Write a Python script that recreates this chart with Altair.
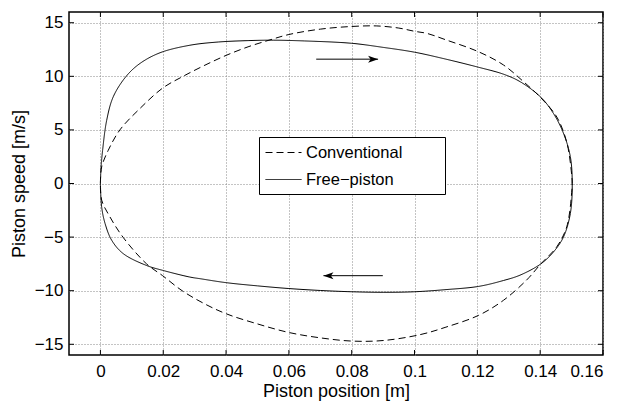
import altair as alt
import pandas as pd

FONT = "Liberation Sans"

series_names = ["Conventional", "Free\u2212piston"]

# Conventional engine loop (top branch left->right, then bottom branch right->left)
conv_x = [0.0, 0.0004, 0.0025, 0.0062, 0.0126, 0.0198, 0.026, 0.033, 0.04,
          0.047, 0.054, 0.06, 0.07, 0.08, 0.088, 0.095, 0.1, 0.104, 0.11,
          0.1203, 0.1283, 0.1347, 0.1402, 0.1453, 0.1485, 0.1501, 0.1502,
          0.1501, 0.1485, 0.1453, 0.1402, 0.1357, 0.1283, 0.1204, 0.11, 0.1018,
          0.09, 0.08, 0.07, 0.06, 0.05, 0.04, 0.033, 0.026, 0.0198, 0.0147,
          0.0073, 0.003, 0.0004, 0.0]
conv_y = [0.0, 1.55, 3.1, 5.0, 7.0, 8.9, 9.95, 11.0, 11.95,
          12.75, 13.4, 13.9, 14.4, 14.65, 14.7, 14.5, 14.2, 14.0, 13.4,
          12.3, 11.06, 9.5, 8.0, 6.2, 3.8, 0.6, 0.0,
          -0.6, -4.0, -5.9, -7.5, -9.0, -10.9, -12.3, -13.4, -14.1,
          -14.65, -14.7, -14.4, -13.9, -13.1, -12.15, -11.2, -10.0, -8.6, -7.5,
          -5.05, -3.1, -1.55, 0.0]

# Free-piston engine loop
free_x = [0.0, 0.0002, 0.0007, 0.002, 0.0041, 0.0082, 0.0126, 0.019, 0.0285, 0.0375,
          0.047, 0.055, 0.065, 0.08, 0.09, 0.1, 0.11, 0.1203, 0.1283, 0.1336,
          0.1402, 0.1442, 0.1474, 0.1496, 0.1502,
          0.1496, 0.1474, 0.1442, 0.1402, 0.1336, 0.1283, 0.1204, 0.11, 0.1,
          0.09, 0.08, 0.07, 0.06, 0.05, 0.04, 0.0317, 0.0285, 0.0198, 0.0147,
          0.0073, 0.0036, 0.0015, 0.0004, 0.0]
free_y = [0.0, 1.5, 3.1, 5.9, 8.1, 10.0, 11.2, 12.2, 12.9, 13.2,
          13.33, 13.37, 13.3, 13.08, 12.7, 12.25, 11.6, 10.85, 10.2, 9.5,
          8.05, 6.55, 4.7, 2.5, 0.0,
          -2.8, -5.0, -6.4, -7.5, -8.55, -9.05, -9.6, -9.9, -10.1,
          -10.15, -10.1, -9.98, -9.8, -9.55, -9.25, -8.88, -8.73, -8.1, -7.65,
          -6.55, -5.3, -3.75, -2.2, 0.0]

x_ticks = [0, 0.02, 0.04, 0.06, 0.08, 0.1, 0.12, 0.14, 0.16]
y_ticks = [-15, -10, -5, 0, 5, 10, 15]

# Direction arrows
arrow_x_start = [0.0687, 0.0899]
arrow_x_end = [0.0884, 0.0710]
arrow_y = [11.6, -8.6]

W, H = 534, 343

rows = []
for i, (a, b) in enumerate(zip(conv_x, conv_y)):
    rows.append({"series": series_names[0], "idx": i, "x": a, "y": b})
for i, (a, b) in enumerate(zip(free_x, free_y)):
    rows.append({"series": series_names[1], "idx": i, "x": a, "y": b})
df = pd.DataFrame(rows)

xscale = alt.Scale(domain=[-0.01, 0.16], nice=False, zero=False)
yscale = alt.Scale(domain=[-16, 16], nice=False, zero=False)

PAD = "\u2800" * 3

lines = alt.Chart(df).mark_line(color="black", strokeWidth=1, interpolate="catmull-rom").encode(
    x=alt.X("x:Q", scale=xscale,
            axis=alt.Axis(values=x_ticks, format="~g", title="Piston position [m]",
                          labelPadding=8, titlePadding=3)),
    y=alt.Y("y:Q", scale=yscale,
            axis=alt.Axis(values=y_ticks, format="~g", title="Piston speed [m/s]",
                          labelPadding=6, titlePadding=6)),
    strokeDash=alt.StrokeDash(
        "series:N",
        scale=alt.Scale(domain=series_names, range=[[7, 4], [1, 0]]),
        legend=alt.Legend(
            title=None, orient="none", legendX=190, legendY=125,
            symbolType="M-1,0 L3,0", symbolSize=324, symbolStrokeWidth=1,
            symbolStrokeColor="black", symbolFillColor="transparent",
            labelFontSize=16.5, labelFont=FONT, labelLimit=0,
            labelColor="black", labelOffset=22, rowPadding=9, padding=6,
            strokeColor="black", fillColor="white", cornerRadius=0,
            labelExpr="datum.label + '" + PAD + "'",
        ),
    ),
    order="idx:Q",
)

xt = pd.DataFrame({"x": x_ticks})
yt = pd.DataFrame({"y": y_ticks})
tick_x_bottom = alt.Chart(xt).mark_rule(color="black", strokeWidth=1).encode(
    x=alt.X("x:Q", scale=xscale), y=alt.value(H), y2=alt.value(H - 5))
tick_x_top = alt.Chart(xt).mark_rule(color="black", strokeWidth=1).encode(
    x=alt.X("x:Q", scale=xscale), y=alt.value(0), y2=alt.value(5))
tick_y_left = alt.Chart(yt).mark_rule(color="black", strokeWidth=1).encode(
    y=alt.Y("y:Q", scale=yscale), x=alt.value(0), x2=alt.value(5))
tick_y_right = alt.Chart(yt).mark_rule(color="black", strokeWidth=1).encode(
    y=alt.Y("y:Q", scale=yscale), x=alt.value(W), x2=alt.value(W - 5))

arr = pd.DataFrame({"x0": arrow_x_start, "x1": arrow_x_end, "y": arrow_y,
                    "dir": ["right", "left"]})
shafts = alt.Chart(arr).mark_rule(color="black", strokeWidth=1).encode(
    x=alt.X("x0:Q", scale=xscale), x2="x1:Q", y=alt.Y("y:Q", scale=yscale))
head_r = alt.Chart(arr).transform_filter("datum.dir == 'right'").mark_point(
    shape="M0,0 L-2,-0.7 L-1.5,0 L-2,0.7 Z", size=100, filled=True,
    color="black", opacity=1).encode(
    x=alt.X("x1:Q", scale=xscale), y=alt.Y("y:Q", scale=yscale))
head_l = alt.Chart(arr).transform_filter("datum.dir == 'left'").mark_point(
    shape="M0,0 L2,-0.7 L1.5,0 L2,0.7 Z", size=100, filled=True,
    color="black", opacity=1).encode(
    x=alt.X("x1:Q", scale=xscale), y=alt.Y("y:Q", scale=yscale))

chart = alt.layer(
    lines, tick_x_bottom, tick_x_top, tick_y_left, tick_y_right, shafts, head_r, head_l
).properties(
    width=W, height=H,
    autosize=alt.AutoSizeParams(type="none"),
    padding={"left": 69, "top": 12, "right": 20, "bottom": 50},
    background="white",
).configure_view(
    stroke="black", strokeWidth=1.5
).configure_axis(
    domain=False, ticks=False, grid=True,
    gridColor="#888888", gridDash=[1, 2], gridWidth=1, gridOpacity=1,
    labelFont=FONT, labelFontSize=17, labelColor="black",
    titleFont=FONT, titleFontSize=18, titleFontWeight="normal", titleColor="black",
)

chart.save("out.html", embed_options={"renderer": "svg", "actions": False})
